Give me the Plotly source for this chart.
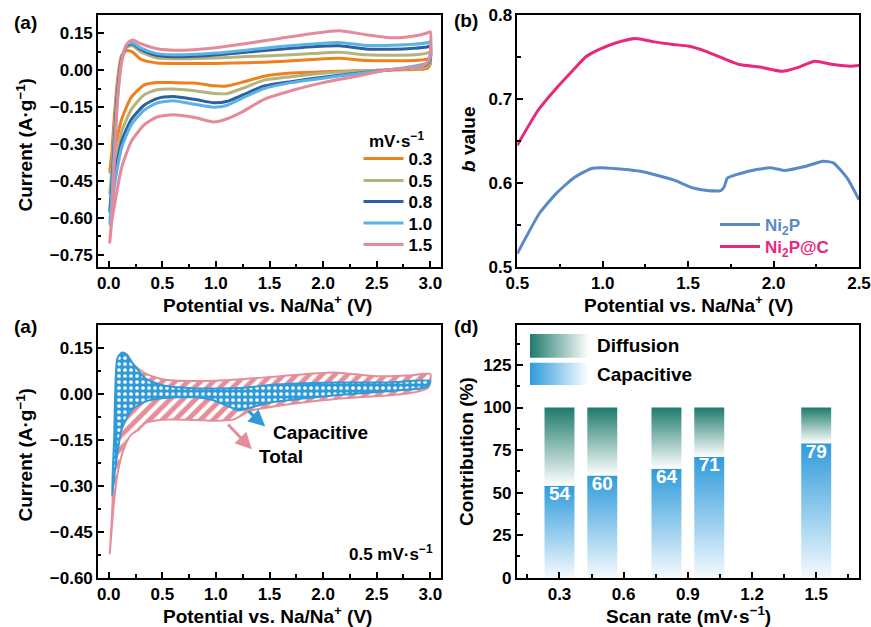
import plotly.graph_objects as go

W, H = 871, 627
FONT = "Liberation Sans"

# ---------------- Panel (a): CV curves at several scan rates ----------------
RATES = ["0.3", "0.5", "0.8", "1.0", "1.5"]
RATE_COLORS = ["#F07F1E", "#B3B47C", "#2F5F9C", "#5AB2E6", "#E48A9B"]
V_ANODIC = [0.01, 0.03, 0.05, 0.08, 0.12, 0.17, 0.22, 0.30, 0.45, 0.70, 1.00, 1.30, 1.60, 1.90, 2.15, 2.40, 2.65, 2.85, 2.97, 3.00]
V_CATHODIC = [3.00, 2.97, 2.90, 2.60, 2.30, 2.00, 1.70, 1.45, 1.25, 1.10, 0.98, 0.80, 0.60, 0.45, 0.33, 0.21, 0.12, 0.06, 0.03, 0.01]
I_ANODIC = {
    "0.3": [-0.415, -0.33, -0.20, -0.05, 0.06, 0.08, 0.075, 0.045, 0.030, 0.028, 0.028, 0.031, 0.036, 0.044, 0.049, 0.040, 0.039, 0.040, 0.045, 0.049],
    "0.5": [-0.50, -0.40, -0.26, -0.08, 0.05, 0.095, 0.100, 0.075, 0.050, 0.047, 0.050, 0.056, 0.061, 0.068, 0.073, 0.063, 0.061, 0.063, 0.070, 0.075],
    "0.8": [-0.575, -0.46, -0.30, -0.10, 0.045, 0.100, 0.108, 0.085, 0.060, 0.055, 0.062, 0.074, 0.086, 0.096, 0.100, 0.087, 0.086, 0.090, 0.095, 0.100],
    "1.0": [-0.627, -0.50, -0.33, -0.12, 0.04, 0.105, 0.112, 0.090, 0.068, 0.063, 0.070, 0.083, 0.097, 0.107, 0.113, 0.101, 0.102, 0.106, 0.112, 0.116],
    "1.5": [-0.70, -0.59, -0.40, -0.14, 0.03, 0.108, 0.123, 0.108, 0.088, 0.082, 0.092, 0.110, 0.130, 0.150, 0.161, 0.145, 0.132, 0.140, 0.152, 0.157],
}
I_CATHODIC = {
    "0.3": [0.025, 0.008, 0.004, 0.001, -0.002, -0.006, -0.011, -0.024, -0.048, -0.064, -0.063, -0.052, -0.050, -0.050, -0.060, -0.11, -0.20, -0.31, -0.37, -0.415],
    "0.5": [0.035, 0.015, 0.008, 0.001, -0.004, -0.012, -0.026, -0.040, -0.073, -0.095, -0.094, -0.083, -0.076, -0.079, -0.100, -0.16, -0.25, -0.37, -0.44, -0.50],
    "0.8": [0.045, 0.025, 0.015, 0.001, -0.013, -0.028, -0.046, -0.064, -0.100, -0.127, -0.132, -0.118, -0.107, -0.115, -0.142, -0.20, -0.29, -0.42, -0.51, -0.575],
    "1.0": [0.050, 0.030, 0.021, 0.001, -0.015, -0.032, -0.050, -0.074, -0.112, -0.143, -0.150, -0.138, -0.124, -0.133, -0.162, -0.222, -0.316, -0.452, -0.55, -0.627],
    "1.5": [0.070, 0.030, 0.015, 0.001, -0.025, -0.050, -0.083, -0.118, -0.168, -0.198, -0.210, -0.192, -0.181, -0.190, -0.222, -0.290, -0.397, -0.533, -0.61, -0.70],
}

# ---------------- Panel (b): b value vs potential ----------------
V_NI2P = [0.50, 0.63, 0.73, 0.83, 0.93, 1.02, 1.22, 1.41, 1.53, 1.61, 1.69, 1.71, 1.73, 1.80, 1.90, 1.99, 2.06, 2.19, 2.29, 2.35, 2.43, 2.50]
B_NI2P = [0.516, 0.564, 0.588, 0.606, 0.617, 0.618, 0.614, 0.604, 0.594, 0.591, 0.591, 0.595, 0.606, 0.611, 0.616, 0.618, 0.615, 0.620, 0.626, 0.624, 0.606, 0.580]
V_NI2PC = [0.50, 0.62, 0.73, 0.83, 0.90, 0.98, 1.08, 1.19, 1.30, 1.41, 1.50, 1.60, 1.71, 1.80, 1.92, 2.05, 2.15, 2.24, 2.35, 2.45, 2.50]
B_NI2PC = [0.645, 0.686, 0.713, 0.735, 0.750, 0.759, 0.767, 0.772, 0.768, 0.765, 0.763, 0.757, 0.748, 0.741, 0.738, 0.733, 0.738, 0.745, 0.741, 0.739, 0.740]

# ---------------- Panel (c): total vs capacitive at 0.5 mV/s ----------------
VT_A = [0.01, 0.03, 0.06, 0.09, 0.13, 0.17, 0.22, 0.34, 0.50, 0.80, 1.20, 1.60, 2.10, 2.50, 2.80, 3.00]
IT_A = [-0.52, -0.40, -0.15, 0.05, 0.125, 0.130, 0.100, 0.067, 0.048, 0.042, 0.047, 0.058, 0.070, 0.058, 0.060, 0.065]
VT_C = [2.98, 2.80, 2.56, 2.10, 1.63, 1.32, 1.16, 1.00, 0.80, 0.50, 0.34, 0.28, 0.21, 0.15, 0.09, 0.05, 0.01]
IT_C = [0.020, 0.002, -0.006, -0.017, -0.036, -0.055, -0.084, -0.088, -0.085, -0.084, -0.095, -0.117, -0.133, -0.171, -0.246, -0.35, -0.52]
VC_A = [0.03, 0.05, 0.08, 0.12, 0.15, 0.25, 0.34, 0.49, 0.81, 1.27, 1.50, 2.10, 2.60, 3.00]
IC_A = [-0.333, -0.15, 0.115, 0.135, 0.133, 0.088, 0.051, 0.029, 0.018, 0.020, 0.029, 0.037, 0.037, 0.042]
VC_C = [2.98, 2.90, 2.16, 1.48, 1.21, 1.12, 0.96, 0.81, 0.49, 0.34, 0.215, 0.12, 0.06, 0.03]
IC_C = [0.025, 0.018, -0.003, -0.030, -0.054, -0.041, -0.019, -0.011, -0.014, -0.025, -0.052, -0.117, -0.246, -0.333]

# ---------------- Panel (d): contribution bars ----------------
SCAN_RATES = [0.3, 0.5, 0.8, 1.0, 1.5]
CAPACITIVE = [54, 60, 64, 71, 79]
TOTAL = 100
BAR_W = 0.14

CAP_BLUE = "#2F9BDB"
DIF_TEAL = "#1E7B6C"

def px(x):
    return x / W

def py(y):
    return 1 - y / H

fig = go.Figure()

# panel a (each entry gets its own one-item legend so spacing can match)
A_LEGENDS = ["legend", "legend3", "legend4", "legend5", "legend6"]
for r, c, lg in zip(RATES, RATE_COLORS, A_LEGENDS):
    fig.add_trace(go.Scatter(
        x=V_ANODIC + V_CATHODIC, y=I_ANODIC[r] + I_CATHODIC[r],
        mode="lines", line=dict(color=c, width=3, shape="spline", smoothing=0.6),
        name=r, legend=lg, xaxis="x", yaxis="y"))

# panel b
fig.add_trace(go.Scatter(x=V_NI2P, y=B_NI2P, mode="lines",
                         line=dict(color="#5A8AC6", width=3, shape="spline", smoothing=0.5),
                         name="<span style='color:#5A8AC6'>Ni<sub>2</sub>P</span>",
                         legend="legend2", xaxis="x2", yaxis="y2"))
fig.add_trace(go.Scatter(x=V_NI2PC, y=B_NI2PC, mode="lines",
                         line=dict(color="#E8287A", width=3, shape="spline", smoothing=0.5),
                         name="<span style='color:#E8287A'>Ni<sub>2</sub>P@C</span>",
                         legend="legend7", xaxis="x2", yaxis="y2"))

# panel c
fig.add_trace(go.Scatter(x=VT_A + VT_C, y=IT_A + IT_C, mode="lines", fill="toself",
                         line=dict(color="#E58E9A", width=2, shape="spline", smoothing=0.6),
                         fillcolor="#E58E9A",
                         fillpattern=dict(shape="/", bgcolor="#E58E9A", fgcolor="white", size=9, solidity=0.45),
                         showlegend=False, xaxis="x3", yaxis="y3"))
fig.add_trace(go.Scatter(x=VC_A + VC_C, y=IC_A + IC_C, mode="lines", fill="toself",
                         line=dict(color="#2F9AD8", width=2, shape="spline", smoothing=0.6),
                         fillcolor="#2F9AD8",
                         fillpattern=dict(shape=".", bgcolor="#2F9AD8", fgcolor="white", size=6, solidity=0.3),
                         showlegend=False, xaxis="x3", yaxis="y3"))

# panel d bars (gradient-filled rectangles in data coordinates)
for xr, cap in zip(SCAN_RATES, CAPACITIVE):
    x0, x1 = xr - BAR_W / 2, xr + BAR_W / 2
    fig.add_trace(go.Scatter(x=[x0, x1, x1, x0, x0], y=[0, 0, cap, cap, 0], mode="lines",
                             fill="toself", line=dict(width=0),
                             fillgradient=dict(type="vertical", colorscale=[[0, "#F4FAFE"], [1, CAP_BLUE]]),
                             showlegend=False, hoverinfo="skip", xaxis="x4", yaxis="y4"))
    fig.add_trace(go.Scatter(x=[x0, x1, x1, x0, x0], y=[cap, cap, TOTAL, TOTAL, cap], mode="lines",
                             fill="toself", line=dict(width=0),
                             fillgradient=dict(type="vertical", colorscale=[[0, "#FFFFFF"], [1, DIF_TEAL]]),
                             showlegend=False, hoverinfo="skip", xaxis="x4", yaxis="y4"))
fig.add_trace(go.Scatter(x=SCAN_RATES, y=CAPACITIVE, mode="text", text=[str(v) for v in CAPACITIVE],
                         textposition="bottom center",
                         textfont=dict(family=FONT, size=19, color="white", weight="bold"),
                         showlegend=False, xaxis="x4", yaxis="y4"))

# legend patches for panel d
LEG_X = [0.162, 0.438]
for (y0, y1), col in [((129.3, 143.2), DIF_TEAL), ((113.2, 126.3), CAP_BLUE)]:
    fig.add_trace(go.Scatter(x=[LEG_X[0], LEG_X[1], LEG_X[1], LEG_X[0], LEG_X[0]], y=[y0, y0, y1, y1, y0],
                             mode="lines", fill="toself", line=dict(width=0),
                             fillgradient=dict(type="horizontal", colorscale=[[0, col], [1, "#FFFFFF"]]),
                             showlegend=False, hoverinfo="skip", xaxis="x4", yaxis="y4"))

tickfont = dict(family=FONT, size=17, color="black", weight="bold")

def axis(domain, rng, dtick, mdtick, fmt, anchor, tick0=None):
    d = dict(domain=domain, range=rng, dtick=dtick, tickformat=fmt, anchor=anchor,
             showline=True, linecolor="black", linewidth=1.6, mirror=True,
             ticks="inside", ticklen=6, tickwidth=1.5, tickcolor="black",
             minor=dict(ticks="inside", ticklen=3.5, tickwidth=1.5, dtick=mdtick, tickcolor="black"),
             showgrid=False, zeroline=False, tickfont=tickfont, automargin=False)
    if tick0 is not None:
        d["tick0"] = tick0
    return d

XA = [px(98), px(441)]
XB = [px(517.3), px(859)]
XD = [px(516.7), px(859)]
YTOP = [py(267), py(15)]
YBOT = [py(577.7), py(325)]

def leg(x, y):
    return dict(x=px(x), y=py(y), xanchor="left", yanchor="middle",
                bgcolor="rgba(0,0,0,0)", borderwidth=0,
                font=dict(family=FONT, size=17, color="black", weight="bold"),
                itemwidth=40, tracegroupgap=0)

A_LEG_Y = [159, 181, 202, 223.5, 245]
layout_legends = {name: leg(358.5, yy) for name, yy in zip(A_LEGENDS, A_LEG_Y)}
layout_legends["legend2"] = leg(715, 225)
layout_legends["legend7"] = leg(715, 247)

fig.update_layout(
    width=W, height=H, margin=dict(l=0, r=0, t=0, b=0, autoexpand=False),
    template="none",
    plot_bgcolor="white", paper_bgcolor="white",
    font=dict(family=FONT, color="black"),
    xaxis=axis(XA, [-0.1, 3.1], 0.5, 0.25, ".1f", "y", 0),
    yaxis=axis(YTOP, [-0.80, 0.225], 0.15, 0.075, ".2f", "x", 0),
    xaxis2=axis(XB, [0.5, 2.5], 0.5, 0.25, ".1f", "y2", 0),
    yaxis2=axis(YTOP, [0.5, 0.8], 0.1, 0.05, ".1f", "x2", 0),
    xaxis3=axis(XA, [-0.1, 3.1], 0.5, 0.25, ".1f", "y3", 0),
    yaxis3=axis(YBOT, [-0.60, 0.225], 0.15, 0.075, ".2f", "x3", 0),
    xaxis4=axis(XD, [0.1, 1.7], 0.3, 0.15, ".1f", "y4", 0),
    yaxis4=axis(YBOT, [0, 148.5], 25, 12.5, "d", "x4", 0),
    **layout_legends,
)

def ann(text, x, y, size=19, xanchor="center", textangle=0, color="black"):
    return dict(text=text, x=px(x), y=py(y), xref="paper", yref="paper", showarrow=False,
                xanchor=xanchor, yanchor="middle", textangle=textangle,
                font=dict(family=FONT, size=size, color=color, weight="bold"))

annotations = [
    ann("(a)", 25, 22), ann("(b)", 466, 20), ann("(a)", 25, 327), ann("(d)", 466, 326),
    ann("Potential vs. Na/Na<sup>+</sup> (V)", 267, 304),
    ann("Potential vs. Na/Na<sup>+</sup> (V)", 688, 304),
    ann("Potential vs. Na/Na<sup>+</sup> (V)", 267, 615),
    ann("Scan rate (mV·s<sup>−1</sup>)", 688, 615),
    ann("Current (A·g<sup>−1</sup>)", 24.5, 145, textangle=-90),
    ann("Current (A·g<sup>−1</sup>)", 24.5, 455, textangle=-90),
    ann("<i>b</i> value", 468, 140, textangle=-90),
    ann("Contribution (%)", 467, 452, textangle=-90),
    ann("0.5 mV·s<sup>−1</sup>", 435, 553, size=17, xanchor="right"),
    ann("mV·s<sup>−1</sup>", 397, 140, size=17),
]
# panel c labels and arrows (data coords)
annotations += [
    dict(text="Capacitive", x=1.51, y=-0.125, xref="x3", yref="y3", showarrow=False, xanchor="left",
         font=dict(family=FONT, size=19, color="black", weight="bold")),
    dict(text="Total", x=1.38, y=-0.203, xref="x3", yref="y3", showarrow=False, xanchor="left",
         font=dict(family=FONT, size=19, color="black", weight="bold")),
    dict(text="", x=1.46, y=-0.106, ax=1.29, ay=-0.052, xref="x3", yref="y3", axref="x3", ayref="y3",
         showarrow=True, arrowhead=2, arrowsize=1.1, arrowwidth=3, arrowcolor="#2F9AD8"),
    dict(text="", x=1.335, y=-0.181, ax=1.10, ay=-0.095, xref="x3", yref="y3", axref="x3", ayref="y3",
         showarrow=True, arrowhead=2, arrowsize=1.1, arrowwidth=3, arrowcolor="#E58E9A"),
    dict(text="Diffusion", x=0.466, y=136.2, xref="x4", yref="y4", showarrow=False, xanchor="left",
         font=dict(family=FONT, size=19, color="black", weight="bold")),
    dict(text="Capacitive", x=0.466, y=119.7, xref="x4", yref="y4", showarrow=False, xanchor="left",
         font=dict(family=FONT, size=19, color="black", weight="bold")),
]
fig.update_layout(annotations=annotations)

fig.write_html("out.html", config={"displayModeBar": False},
               post_script="document.body.style.margin='0';document.body.style.padding='0';")
